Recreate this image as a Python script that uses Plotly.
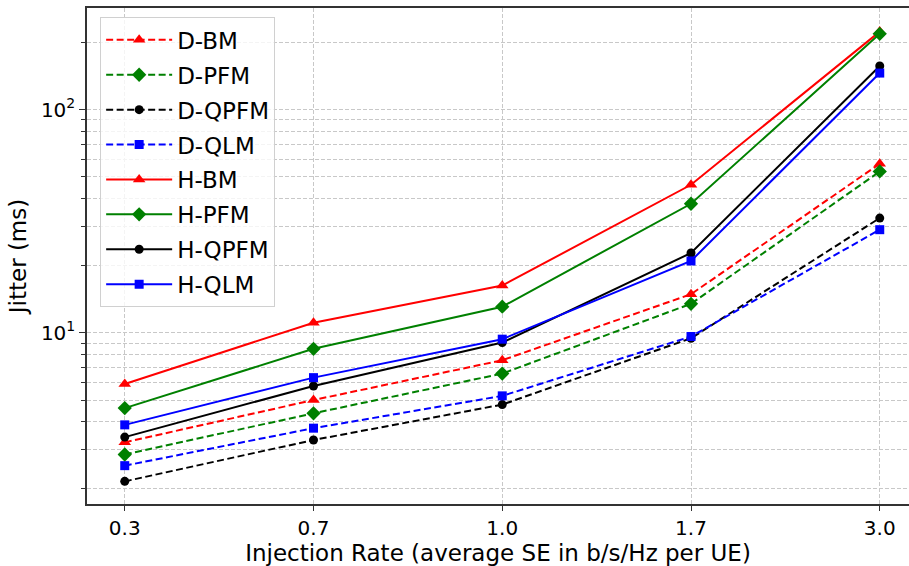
import plotly.graph_objects as go

categories = ["0.3", "0.7", "1.0", "1.7", "3.0"]

d_bm = [3.23, 5.0, 7.54, 14.9, 57.3]
d_pfm = [2.85, 4.36, 6.57, 13.5, 52.9]
d_qpfm = [2.16, 3.31, 4.77, 9.46, 32.7]
d_qlm = [2.54, 3.74, 5.22, 9.63, 29.0]
h_bm = [5.9, 11.1, 16.3, 46.1, 224]
h_pfm = [4.6, 8.48, 13.1, 37.9, 219]
h_qpfm = [3.41, 5.78, 9.05, 22.8, 157]
h_qlm = [3.87, 6.3, 9.37, 21.0, 146]

series = [
    ("D-BM", d_bm, "red", "triangle-up", "7px,3.5px", 11),
    ("D-PFM", d_pfm, "green", "diamond", "7px,3.5px", 11),
    ("D-QPFM", d_qpfm, "black", "circle", "7px,3.5px", 9),
    ("D-QLM", d_qlm, "blue", "square", "7px,3.5px", 9),
    ("H-BM", h_bm, "red", "triangle-up", "solid", 11),
    ("H-PFM", h_pfm, "green", "diamond", "solid", 11),
    ("H-QPFM", h_qpfm, "black", "circle", "solid", 9),
    ("H-QLM", h_qlm, "blue", "square", "solid", 9),
]

xidx = list(range(len(categories)))

fig = go.Figure()
for name, vals, col, sym, dash, msize in series:
    fig.add_trace(go.Scatter(
        x=xidx, y=vals, name=name, mode="lines+markers",
        line=dict(color=col, width=2, dash=dash),
        marker=dict(symbol=sym, size=msize, color=col),
        legendgroup=name,
    ))

minor_vals = [m * 10 ** e for e in (0, 1, 2) for m in range(2, 10) if m * 10 ** e < 290]

font_family = "DejaVu Sans"
grid_dash = "4px,2px"
fig.update_layout(
    width=909, height=566,
    margin=dict(l=87, r=0, t=8, b=62),
    plot_bgcolor="white", paper_bgcolor="white",
    font=dict(family=font_family, color="black", size=20),
    showlegend=True,
    legend=dict(
        x=0.016, y=0.981, xanchor="left", yanchor="top",
        bgcolor="rgba(255,255,255,0.8)", bordercolor="#d0d0d0", borderwidth=1,
        font=dict(size=23, family=font_family),
        tracegroupgap=2, itemwidth=66,
    ),
    xaxis=dict(
        range=[-0.2, 4.155],
        tickmode="array", tickvals=xidx, ticktext=categories,
        showline=True, linecolor="#333333", linewidth=1.5, mirror=True,
        ticks="outside", ticklen=5, tickcolor="#333333",
        showgrid=True, gridcolor="#c8c8c8", griddash=grid_dash, gridwidth=0.8,
        zeroline=False,
        title=dict(text="Injection Rate (average SE in b/s/Hz per UE)", font=dict(size=23), standoff=9),
        tickfont=dict(size=20),
    ),
    yaxis=dict(
        type="log", range=[0.233, 2.456],
        tickmode="array", tickvals=[10, 100], ticktext=["10<sup>1</sup>", "10<sup>2</sup>"],
        showline=True, linecolor="#333333", linewidth=1.5, mirror=False,
        ticks="outside", ticklen=6, tickcolor="#333333",
        showgrid=True, gridcolor="#c8c8c8", griddash=grid_dash, gridwidth=0.8,
        zeroline=False,
        minor=dict(tickvals=minor_vals, ticks="outside", ticklen=4, tickcolor="#333333",
                   showgrid=True, gridcolor="#c8c8c8", griddash=grid_dash, gridwidth=0.8),
        title=dict(text="Jitter (ms)", font=dict(size=23), standoff=8),
        tickfont=dict(size=20),
    ),
)

fig.write_html("out.html")
